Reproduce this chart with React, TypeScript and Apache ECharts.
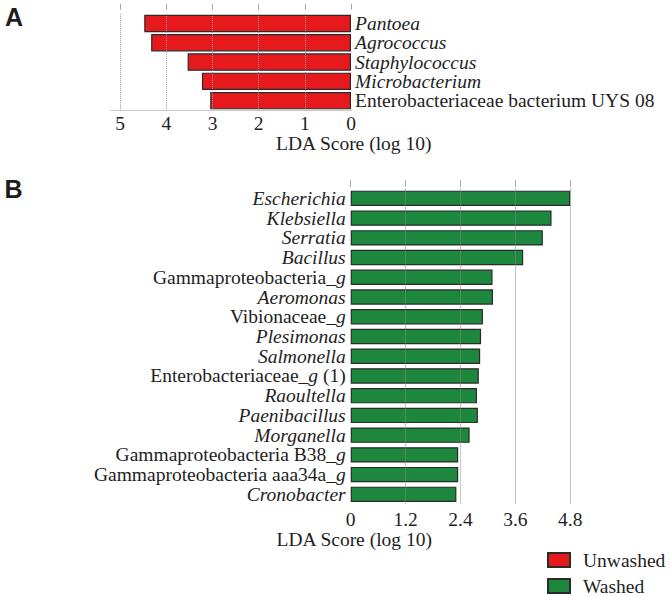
import React, { useEffect, useRef } from 'react';
import * as echarts from 'echarts';

// ---------- Data ----------
const catA = [
  'Pantoea',
  'Agrococcus',
  'Staphylococcus',
  'Microbacterium',
  'Enterobacteriaceae bacterium UYS 08',
];
const valA = [4.48, 4.33, 3.54, 3.23, 3.05];

const catB = [
  'Escherichia',
  'Klebsiella',
  'Serratia',
  'Bacillus',
  'Gammaproteobacteria_g',
  'Aeromonas',
  'Vibionaceae_g',
  'Plesimonas',
  'Salmonella',
  'Enterobacteriaceae_g (1)',
  'Raoultella',
  'Paenibacillus',
  'Morganella',
  'Gammaproteobacteria B38_g',
  'Gammaproteobacteria aaa34a_g',
  'Cronobacter',
];
const valB = [4.8, 4.39, 4.2, 3.77, 3.1, 3.11, 2.89, 2.85, 2.83, 2.8, 2.76, 2.78, 2.6, 2.35, 2.35, 2.31];

const ticksA = [0, 1, 2, 3, 4, 5];
const ticksB = [0, 1.2, 2.4, 3.6, 4.8];
const legendNames = ['Unwashed', 'Washed'];
const axisTitle = 'LDA Score (log 10)';

// rich-text markup of each label (italic genus names)
const markup: Record<string, string> = {
  'Pantoea': '{i|Pantoea}',
  'Agrococcus': '{i|Agrococcus}',
  'Staphylococcus': '{i|Staphylococcus}',
  'Microbacterium': '{i|Microbacterium}',
  'Enterobacteriaceae bacterium UYS 08': '{n|Enterobacteriaceae bacterium UYS 08}',
  'Escherichia': '{i|Escherichia}',
  'Klebsiella': '{i|Klebsiella}',
  'Serratia': '{i|Serratia}',
  'Bacillus': '{i|Bacillus}',
  'Gammaproteobacteria_g': '{n|Gammaproteobacteria_}{i|g}',
  'Aeromonas': '{i|Aeromonas}',
  'Vibionaceae_g': '{n|Vibionaceae_}{i|g}',
  'Plesimonas': '{i|Plesimonas}',
  'Salmonella': '{i|Salmonella}',
  'Enterobacteriaceae_g (1)': '{n|Enterobacteriaceae_}{i|g}{n| (1)}',
  'Raoultella': '{i|Raoultella}',
  'Paenibacillus': '{i|Paenibacillus}',
  'Morganella': '{i|Morganella}',
  'Gammaproteobacteria B38_g': '{n|Gammaproteobacteria B38_}{i|g}',
  'Gammaproteobacteria aaa34a_g': '{n|Gammaproteobacteria aaa34a_}{i|g}',
  'Cronobacter': '{i|Cronobacter}',
};

const SERIF = "'Liberation Serif', 'Times New Roman', serif";
const SANS = "'Liberation Sans', Arial, sans-serif";
const FS = 19.5;
const TXT = '#1e1e1e';
const RED = '#e6191d';
const GREEN = '#1d873d';
const BORDER = '#2b2b2b';

const rich = {
  i: { fontStyle: 'italic', fontFamily: SERIF, fontSize: FS, color: TXT },
  n: { fontStyle: 'normal', fontFamily: SERIF, fontSize: FS, color: TXT },
};

export default function App() {
  const ref = useRef<HTMLDivElement>(null);

  useEffect(() => {
    document.body.style.margin = '0';
    const chart = echarts.init(ref.current!, null, { renderer: 'svg' });
    const option: any = {
      animation: false,
      backgroundColor: '#ffffff',
      grid: [
        { left: 111, top: 13.8, width: 240, height: 96.5 },
        { left: 350.7, top: 188.5, width: 219.6, height: 315.7 },
      ],
      xAxis: [
        {
          gridIndex: 0,
          type: 'value',
          inverse: true,
          min: 0,
          max: 5.2,
          position: 'bottom',
          axisLine: { show: true, lineStyle: { color: '#c8c8c8', width: 1 } },
          axisTick: { show: false },
          axisLabel: {
            customValues: ticksA,
            margin: 3,
            fontSize: FS,
            fontFamily: SERIF,
            color: TXT,
          },
          splitLine: { show: false },
        },
        {
          gridIndex: 0,
          type: 'value',
          inverse: true,
          min: 0,
          max: 5.2,
          position: 'top',
          offset: 4,
          axisLine: { show: false },
          axisTick: { show: true, length: 6, customValues: ticksA, lineStyle: { color: '#aaaaaa' } },
          axisLabel: { show: false },
          splitLine: { show: false },
        },
        {
          gridIndex: 1,
          type: 'value',
          min: 0,
          max: 4.8,
          interval: 1.2,
          position: 'bottom',
          axisLine: { show: false },
          axisTick: { show: false },
          axisLabel: { margin: 5, fontSize: FS, fontFamily: SERIF, color: TXT },
          splitLine: { show: false },
        },
        {
          gridIndex: 1,
          type: 'value',
          min: 0,
          max: 4.8,
          interval: 1.2,
          position: 'top',
          offset: 1.5,
          axisLine: { show: false },
          axisTick: { show: true, length: 7, lineStyle: { color: '#aaaaaa' } },
          axisLabel: { show: false },
          splitLine: { show: false },
        },
      ],
      yAxis: [
        {
          gridIndex: 0,
          type: 'category',
          data: catA,
          inverse: true,
          position: 'right',
          axisLine: { show: false },
          axisTick: { show: false },
          axisLabel: { interval: 0, margin: 4, formatter: (v: string) => markup[v] ?? v, rich },
        },
        {
          gridIndex: 1,
          type: 'category',
          data: catB,
          inverse: true,
          position: 'left',
          axisLine: { show: false },
          axisTick: { show: false },
          axisLabel: { interval: 0, margin: 5, formatter: (v: string) => markup[v] ?? v, rich },
        },
      ],
      legend: {
        orient: 'vertical',
        left: 547,
        top: 550,
        padding: 0,
        itemWidth: 22,
        itemHeight: 14,
        itemGap: 6,
        icon: 'rect',
        data: legendNames,
        textStyle: { fontSize: FS, lineHeight: 20, fontFamily: SERIF, color: TXT, padding: [0, 0, 0, 8] },
      },
      series: [
        {
          type: 'line',
          name: 'guideA',
          xAxisIndex: 0,
          yAxisIndex: 0,
          data: [],
          z: 1,
          markLine: {
            silent: true,
            symbol: 'none',
            label: { show: false },
            lineStyle: { type: 'dotted', color: '#9a9a9a', width: 1 },
            data: ticksA.slice(1).map((v) => ({ xAxis: v })),
          },
        },
        {
          type: 'bar',
          name: legendNames[0],
          xAxisIndex: 0,
          yAxisIndex: 0,
          data: valA,
          barCategoryGap: '10%',
          z: 3,
          itemStyle: { color: RED, borderColor: BORDER, borderWidth: 1.2 },
        },
        {
          type: 'bar',
          name: legendNames[1],
          xAxisIndex: 2,
          yAxisIndex: 1,
          data: valB,
          barCategoryGap: '22%',
          z: 3,
          itemStyle: { color: GREEN, borderColor: BORDER, borderWidth: 1.2 },
          markLine: {
            silent: true,
            symbol: 'none',
            label: { show: false },
            lineStyle: { type: 'dotted', color: '#8a8a8a', width: 1 },
            data: ticksB.slice(1).map((v) => ({ xAxis: v })),
          },
        },
      ],
      graphic: [
        {
          type: 'text',
          left: 5,
          top: 4.5,
          style: { text: 'A', fontSize: 25, fontWeight: 'bold', fontFamily: SANS, fill: '#1e1e1e' },
        },
        {
          type: 'text',
          left: 4.5,
          top: 176,
          style: { text: 'B', fontSize: 25, fontWeight: 'bold', fontFamily: SANS, fill: '#1e1e1e' },
        },
        {
          type: 'text',
          left: 276,
          top: 133.5,
          style: { text: axisTitle, fontSize: FS, fontFamily: SERIF, fill: TXT },
        },
        {
          type: 'text',
          left: 276.5,
          top: 529.5,
          style: { text: axisTitle, fontSize: FS, fontFamily: SERIF, fill: TXT },
        },
      ],
    };
    chart.setOption(option);
    return () => chart.dispose();
  }, []);

  return <div ref={ref} style={{ width: 670, height: 597 }} />;
}
